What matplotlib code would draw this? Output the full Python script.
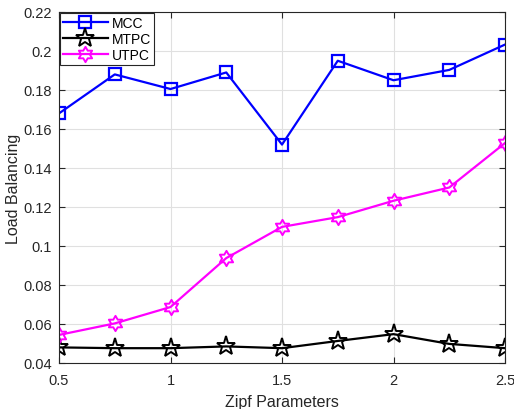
import numpy as np
import matplotlib
matplotlib.use("Agg")
import matplotlib.pyplot as plt
from matplotlib.path import Path
from matplotlib.ticker import FuncFormatter

plt.rcParams['font.family'] = ['Liberation Sans', 'DejaVu Sans']

zipf = [0.5, 0.75, 1.0, 1.25, 1.5, 1.75, 2.0, 2.25, 2.5]
mcc = [0.168, 0.188, 0.1805, 0.189, 0.152, 0.195, 0.185, 0.1903, 0.2033]
mtpc = [0.048, 0.0476, 0.0476, 0.0485, 0.0476, 0.0513, 0.0548, 0.0498, 0.0476]
utpc = [0.0544, 0.0603, 0.0687, 0.0938, 0.1098, 0.1148, 0.1232, 0.130, 0.1528]

dark = (0.15, 0.15, 0.15)
hexagram = Path.unit_regular_star(6, innerCircle=0.577)

fig = plt.figure(figsize=(5.14, 4.10), dpi=100)
ax = fig.add_axes([0.1148, 0.1122, 0.8677, 0.8561])

ax.plot(zipf, mcc, color='blue', lw=1.6, marker='s', ms=9, mfc='none', mew=1.6, label='MCC')
ax.plot(zipf, mtpc, color='black', lw=1.6, marker='*', ms=14, mfc='none', mew=1.4, label='MTPC')
ax.plot(zipf, utpc, color='magenta', lw=1.6, marker=hexagram, ms=11, mfc='none', mew=1.4, label='UTPC')

ax.set_xlim(0.5, 2.5)
ax.set_ylim(0.04, 0.22)
ax.set_xticks(np.arange(0.5, 2.51, 0.5))
ax.set_yticks(np.arange(0.04, 0.2201, 0.02))
ax.xaxis.set_major_formatter(FuncFormatter(lambda v, p: '%g' % round(v, 3)))
ax.yaxis.set_major_formatter(FuncFormatter(lambda v, p: '%g' % round(v, 3)))
ax.tick_params(direction='in', length=4, width=0.8, colors=dark, labelsize=10.5,
               top=True, right=True)
ax.tick_params(axis='x', pad=7)
ax.tick_params(axis='y', pad=5)
ax.grid(True, color=(0.88, 0.88, 0.88), lw=0.8)
ax.set_axisbelow(True)
for s in ax.spines.values():
    s.set_color(dark)
    s.set_linewidth(0.8)

ax.set_xlabel('Zipf Parameters', fontsize=11.5, color=dark, labelpad=5)
ax.set_ylabel('Load Balancing', fontsize=11.5, color=dark, labelpad=2)

leg = ax.legend(loc='upper left', fontsize=10, handlelength=3.2, borderaxespad=0.1,
                fancybox=False, edgecolor=dark, framealpha=1, borderpad=0.2,
                labelspacing=0.15, handletextpad=0.3)
leg.get_frame().set_linewidth(0.8)

fig.savefig('out.png', dpi=100)
